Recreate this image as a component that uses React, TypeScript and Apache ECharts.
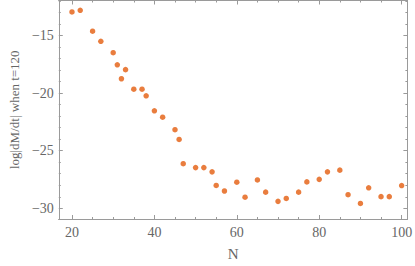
import React, { useEffect, useRef } from "react";
import * as echarts from "echarts";

const nValues = [20, 22, 25, 27, 30, 31, 32, 33, 35, 37, 38, 40, 42, 45, 46, 47, 50, 52, 54, 55, 57, 60, 62, 65, 67, 70, 72, 75, 77, 80, 82, 85, 87, 90, 92, 95, 97, 100];
const logRates = [-12.96, -12.82, -14.63, -15.51, -16.5, -17.55, -18.76, -17.97, -19.67, -19.67, -20.24, -21.54, -22.1, -23.18, -24.03, -26.13, -26.47, -26.47, -26.84, -28.02, -28.5, -27.74, -29.04, -27.54, -28.6, -29.4, -29.15, -28.6, -27.71, -27.49, -26.84, -26.69, -28.82, -29.58, -28.22, -28.99, -28.99, -28.03];
const xMajor = [20, 40, 60, 80, 100];
const xMinor = [25, 30, 35, 45, 50, 55, 65, 70, 75, 85, 90, 95];
const yMajor = [-30, -25, -20, -15];
const yMinor = [-29, -28, -27, -26, -24, -23, -22, -21, -19, -18, -17, -16, -14, -13, -12];

const X_MIN = 16.8, X_MAX = 101.4, Y_MIN = -30.93, Y_MAX = -11.97;
const FRAME = "#9a9a9a";
const LABEL = "#666666";
const FONT = "Liberation Serif";

function fmt(v: number) {
  return v < 0 ? "\u2212" + Math.abs(v) : String(v);
}

export default function App() {
  const ref = useRef<HTMLDivElement>(null);
  useEffect(() => {
    const chart = echarts.init(ref.current!, null, { renderer: "svg" });
    const baseX = (pos: "bottom" | "top", ticks: number[], len: number, labels: boolean, name?: string) => ({
      type: "value",
      position: pos,
      min: X_MIN,
      max: X_MAX,
      splitLine: { show: false },
      axisLine: { show: true, onZero: false, lineStyle: { color: FRAME, width: 1 } },
      axisTick: { show: true, inside: true, length: len, customValues: ticks, lineStyle: { color: FRAME } },
      axisLabel: labels
        ? { show: true, customValues: ticks, color: LABEL, fontFamily: FONT, fontSize: 14, margin: 6, formatter: fmt }
        : { show: false },
      name: name || "",
      nameLocation: "middle",
      nameGap: 27,
      nameTextStyle: { color: LABEL, fontFamily: FONT, fontSize: 15 },
    });
    const baseY = (pos: "left" | "right", ticks: number[], len: number, labels: boolean, name?: string) => ({
      type: "value",
      position: pos,
      min: Y_MIN,
      max: Y_MAX,
      splitLine: { show: false },
      axisLine: { show: true, onZero: false, lineStyle: { color: FRAME, width: 1 } },
      axisTick: { show: true, inside: true, length: len, customValues: ticks, lineStyle: { color: FRAME } },
      axisLabel: labels
        ? { show: true, customValues: ticks, color: LABEL, fontFamily: FONT, fontSize: 14, margin: 5, formatter: fmt }
        : { show: false },
      name: name || "",
      nameLocation: "middle",
      nameRotate: 90,
      nameGap: 35,
      nameTextStyle: { color: LABEL, fontFamily: FONT, fontSize: 13 },
    });
    chart.setOption({
      animation: false,
      grid: { left: 50.7, right: 6, top: 0.5, bottom: 43 },
      xAxis: [
        baseX("bottom", xMajor, 4, true, "N"),
        baseX("bottom", xMinor, 2, false),
        baseX("top", xMajor, 4, false),
        baseX("top", xMinor, 2, false),
      ],
      yAxis: [
        baseY("left", yMajor, 4, true, "log|dM/dt| when t=120"),
        baseY("left", yMinor, 2, false),
        baseY("right", yMajor, 4, false),
        baseY("right", yMinor, 2, false),
      ],
      series: [
        {
          type: "scatter",
          xAxisIndex: 0,
          yAxisIndex: 0,
          symbol: "circle",
          symbolSize: 5.5,
          itemStyle: { color: "#e35d0e" },
          data: nValues.map((n, i) => [n, logRates[i]]),
        },
      ],
    });
    return () => chart.dispose();
  }, []);
  return <div ref={ref} style={{ position: "absolute", left: 0, top: 0, width: 415, height: 266 }} />;
}
